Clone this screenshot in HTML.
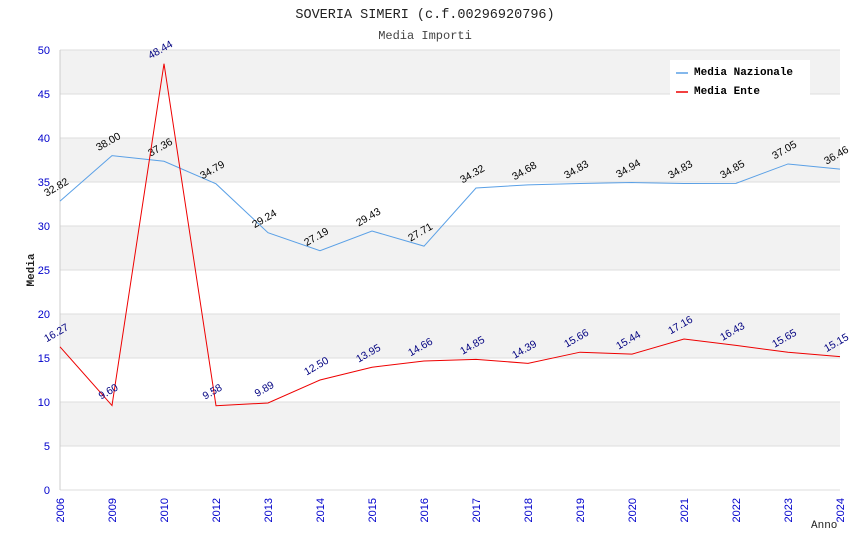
<!DOCTYPE html>
<html><head><meta charset="utf-8"><style>
body{margin:0;background:#fff;}
svg{display:block;}
</style></head><body>
<svg id="chart" width="850" height="550" xmlns="http://www.w3.org/2000/svg">
<text x="425" y="18" text-anchor="middle" font-family="Liberation Mono, monospace" font-size="13.5" fill="#222">SOVERIA SIMERI (c.f.00296920796)</text>
<text x="425" y="39" text-anchor="middle" font-family="Liberation Mono, monospace" font-size="12" fill="#444">Media Importi</text>
<g id="bands"></g>
<g id="axes"></g>
<g id="series"></g>
<text x="34" y="270" text-anchor="middle" transform="rotate(-90 34 270)" font-family="Liberation Mono, monospace" font-size="11" font-weight="bold" fill="#222">Media</text>
<text x="811" y="528" font-family="Liberation Mono, monospace" font-size="11" fill="#222">Anno</text>
<g>
<rect x="670" y="60" width="140" height="36" fill="#fff"/>
<line x1="676" y1="73" x2="688" y2="73" stroke="#5aa0e6" stroke-width="1.5"/>
<text x="694" y="75" font-family="Liberation Mono, monospace" font-size="11" font-weight="bold" fill="#000">Media Nazionale</text>
<line x1="676" y1="92" x2="688" y2="92" stroke="#e00" stroke-width="1.5"/>
<text x="694" y="94" font-family="Liberation Mono, monospace" font-size="11" font-weight="bold" fill="#000">Media Ente</text>
</g>
</svg>
<script>
const categories=["2006","2009","2010","2012","2013","2014","2015","2016","2017","2018","2019","2020","2021","2022","2023","2024"];
const nazionale=[32.82,38.00,37.36,34.79,29.24,27.19,29.43,27.71,34.32,34.68,34.83,34.94,34.83,34.85,37.05,36.46];
const ente=[16.27,9.60,48.44,9.58,9.89,12.50,13.95,14.66,14.85,14.39,15.66,15.44,17.16,16.43,15.65,15.15];
const yTicks=[0,5,10,15,20,25,30,35,40,45,50];
const NS="http://www.w3.org/2000/svg";
const X0=60,X1=840,Y0=490,Y1=50,YMAX=50;
const xs=i=>X0+i*(X1-X0)/(categories.length-1);
const ys=v=>Y0-v*(Y0-Y1)/YMAX;
function mk(tag,attrs,parent){const e=document.createElementNS(NS,tag);for(const k in attrs)e.setAttribute(k,attrs[k]);parent.appendChild(e);return e;}
const bands=document.getElementById('bands'),axes=document.getElementById('axes'),series=document.getElementById('series');
for(let i=0;i<yTicks.length-1;i++){
 const a=yTicks[i],b=yTicks[i+1];
 const r=mk('rect',{x:X0,y:ys(b),width:X1-X0,height:ys(a)-ys(b),fill:(i%2===1)?'#f2f2f2':'#ffffff'},bands);
 
 
}
yTicks.forEach(v=>{
 const l=mk('line',{x1:X0,x2:X1,y1:ys(v),y2:ys(v),stroke:'#ddd','stroke-width':1},axes);
 
 
 const t=mk('text',{x:X0-10,y:ys(v)+4,'text-anchor':'end','font-family':'Liberation Sans, sans-serif','font-size':11,fill:'#0000cc'},axes);
 t.textContent=v;
 
 
});
const ax=mk('line',{x1:X0,x2:X0,y1:Y1,y2:Y0,stroke:'#ccc'},axes);


categories.forEach((c,i)=>{
 const x=xs(i);
 const t=mk('text',{x:x+4,y:Y0+8,'text-anchor':'end','font-family':'Liberation Sans, sans-serif','font-size':11,fill:'#0000cc',transform:`rotate(-90 ${x+4} ${Y0+8})`},axes);
 t.textContent=c;
 
 
});
function drawSeries(vals,color,labelColor,name){
 const p=mk('polyline',{points:vals.map((v,i)=>xs(i)+','+ys(v)).join(' '),fill:'none',stroke:color,'stroke-width':1},series);
 
 
 vals.forEach((v,i)=>{
  const x=xs(i)-2,y=ys(v)-11;
  const t=mk('text',{x:x,y:y,'text-anchor':'middle','font-family':'Liberation Sans, sans-serif','font-size':10.5,fill:labelColor,transform:`rotate(-30 ${x} ${y})`},series);
  t.textContent=v.toFixed(2);
  
  
 });
}
drawSeries(nazionale,'#5aa0e6','#000','nazionale');
drawSeries(ente,'#ee0000','#000080','ente');
</script>
</body></html>
